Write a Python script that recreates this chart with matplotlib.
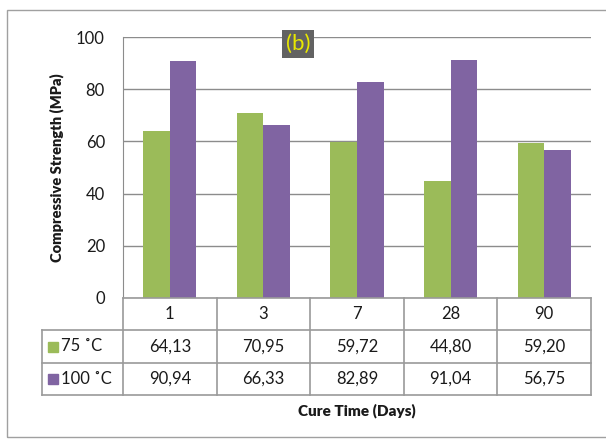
import matplotlib.pyplot as plt
from matplotlib.patches import Rectangle
import numpy as np

plt.rcParams['font.family'] = ['Lato', 'DejaVu Sans']

# data
days = ['1', '3', '7', '28', '90']
series_names = ['75 \u02daC', '100 \u02daC']
t75 = [64.13, 70.95, 59.72, 44.80, 59.20]
t100 = [90.94, 66.33, 82.89, 91.04, 56.75]
colors = ['#9BBB59', '#8064A2']
grid_c = '#8c8c8c'

W, H = 606, 441
fig = plt.figure(figsize=(W / 100, H / 100), dpi=100)

def fx(px):
  return px / W

def fy(py):
  return 1 - py / H

# outer frame
fig.patches.append(Rectangle((fx(7), fy(437)), 1.2, fy(10) - fy(437),
                             transform=fig.transFigure, fill=False,
                             edgecolor='#a0a0a0', lw=1))

left, right, top, bot = 123, 591, 37, 298
ax = fig.add_axes([fx(left), fy(bot), fx(right) - fx(left), fy(top) - fy(bot)])

x = np.arange(len(days)) + 0.5
w = 0.285
ax.bar(x - w / 2, t75, w, color=colors[0], zorder=3)
ax.bar(x + w / 2, t100, w, color=colors[1], zorder=3)
ax.set_xlim(0, len(days))
ax.set_ylim(0, 100)
ax.set_yticks(range(0, 101, 20))
ax.set_xticks([])
ax.grid(axis='y', color=grid_c, lw=1, zorder=0)
for s in ['top', 'right', 'bottom']:
  ax.spines[s].set_visible(False)
ax.spines['left'].set_color(grid_c)
ax.tick_params(axis='y', length=0, labelsize=12, pad=13, colors='#1a1a1a')
ax.set_ylabel('Compressive Strength (MPa)', fontsize=10.5, fontweight='heavy',
              labelpad=9, color='#1a1a1a')

ax.text(0.374, 0.975, '(b)', transform=ax.transAxes, ha='center', va='center',
        fontsize=16, color='#e8e800',
        bbox=dict(boxstyle='square,pad=0.18', fc='#626262', ec='none'), zorder=5)

# data table below the plot
tab_left = 42
row_h = 32.3
tab = fig.add_axes([fx(tab_left), fy(bot + 3 * row_h), fx(right) - fx(tab_left),
                    fy(bot) - fy(bot + 3 * row_h)])
tab.set_xlim(tab_left, right)
tab.set_ylim(bot + 3 * row_h, bot)
tab.axis('off')
col_w = (right - left) / len(days)
lc = '#9a9a9a'
# horizontal lines
tab.plot([left, right], [bot, bot], color=lc, lw=1.2, clip_on=False)
for r in range(1, 4):
  tab.plot([tab_left, right], [bot + r * row_h] * 2, color=lc, lw=1.2, clip_on=False)
# vertical lines
tab.plot([tab_left, tab_left], [bot + row_h, bot + 3 * row_h], color=lc, lw=1.2, clip_on=False)
for c in range(len(days) + 1):
  tab.plot([left + c * col_w] * 2, [bot, bot + 3 * row_h], color=lc, lw=1.2, clip_on=False)

for c, d in enumerate(days):
  tab.text(left + (c + 0.5) * col_w, bot + 0.5 * row_h, d, ha='center', va='center',
           fontsize=12, color='#1a1a1a')
for r, vals in enumerate([t75, t100]):
  yc = bot + (r + 1.5) * row_h
  for c, v in enumerate(vals):
    tab.text(left + (c + 0.5) * col_w, yc, ('%.2f' % v).replace('.', ','),
             ha='center', va='center', fontsize=12, color='#1a1a1a')
  tab.add_patch(Rectangle((tab_left + 6, yc - 4.5), 10, 10, color=colors[r]))
  tab.text(tab_left + 19, yc, series_names[r], ha='left', va='center',
           fontsize=12, color='#1a1a1a')

fig.text(fx((left + right) / 2), fy(411), 'Cure Time (Days)', ha='center',
         va='center', fontsize=11, fontweight='heavy', color='#1a1a1a')

fig.savefig('out.png', dpi=100)
